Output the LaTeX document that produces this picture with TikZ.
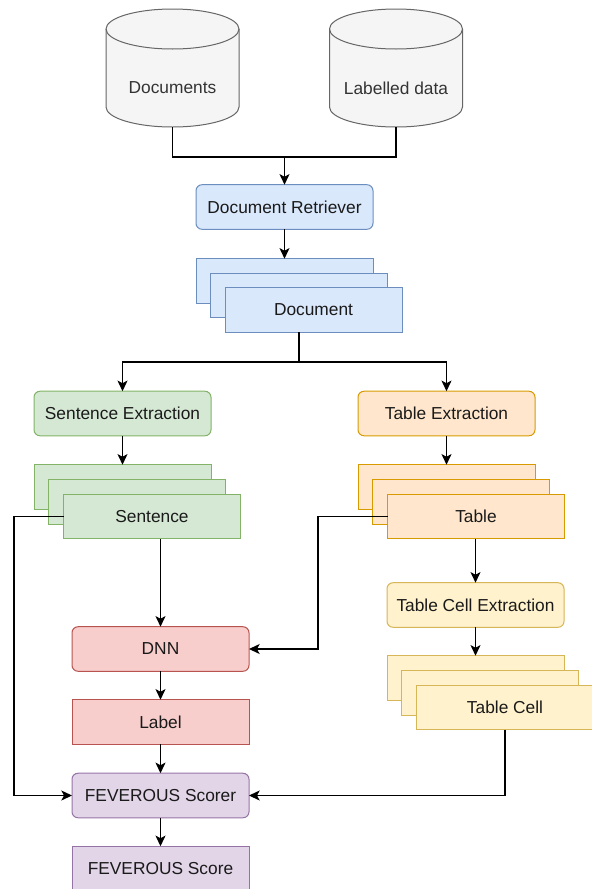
\documentclass[tikz,border=0pt]{standalone}
\usepackage{fontspec}
\setmainfont{Liberation Sans}
\usetikzlibrary{arrows.meta}
\definecolor{dbfill}{HTML}{F5F5F5}
\definecolor{dbline}{HTML}{666666}
\definecolor{bluefill}{HTML}{DAE8FC}
\definecolor{blueline}{HTML}{6C8EBF}
\definecolor{greenfill}{HTML}{D5E8D4}
\definecolor{greenline}{HTML}{82B366}
\definecolor{orangefill}{HTML}{FFE6CC}
\definecolor{orangeline}{HTML}{D79B00}
\definecolor{yellowfill}{HTML}{FFF2CC}
\definecolor{yellowline}{HTML}{D6B656}
\definecolor{redfill}{HTML}{F8CECC}
\definecolor{redline}{HTML}{B85450}
\definecolor{purplefill}{HTML}{E1D5E7}
\definecolor{purpleline}{HTML}{9673A6}
\definecolor{textdark}{HTML}{1A1A1A}
\definecolor{textgray}{HTML}{333333}
\begin{document}
\begin{tikzpicture}[x=0.75pt,y=-0.75pt,
  every node/.style={font=\fontsize{13}{15}\selectfont, text=textdark},
  box/.style={rectangle, line width=0.75pt, minimum width=132.75pt, minimum height=33.4pt, inner sep=0pt, outer sep=0pt},
  roundbox/.style={box, rounded corners=4.5pt},
  db/.style={rectangle, minimum width=99.75pt, minimum height=88.5pt, inner sep=0pt, outer sep=0pt},
  dbshape/.style={draw=dbline, fill=dbfill, line width=0.75pt},
  bluebox/.style={draw=blueline, fill=bluefill},
  greenbox/.style={draw=greenline, fill=greenfill},
  orangebox/.style={draw=orangeline, fill=orangefill},
  yellowbox/.style={draw=yellowline, fill=yellowfill},
  redbox/.style={draw=redline, fill=redfill},
  purplebox/.style={draw=purpleline, fill=purplefill},
  link/.style={line width=0.9pt, draw=black},
  arrow/.style={link, -{Stealth[length=8pt,width=7.5pt,inset=2pt]}}
]
\useasboundingbox (0,0) rectangle (592,889);

% sources
\foreach \db/\x in {docs/172.5, lab/396}{
  \node[db] (\db) at (\x,68) {};
  \filldraw[dbshape] ([yshift=-15pt]\db.north west) -- ([yshift=15pt]\db.south west)
    arc[start angle=180, end angle=360, x radius=49.875pt, y radius=15pt]
    -- ([yshift=-15pt]\db.north east)
    arc[start angle=0, end angle=180, x radius=49.875pt, y radius=15pt] -- cycle;
  \draw[dbshape, fill=none] ([yshift=-15pt]\db.north west)
    arc[start angle=180, end angle=360, x radius=49.875pt, y radius=15pt];
}
\node[text=textgray] (docstext) at ([yshift=-15pt]docs.center) {Documents};
\node[text=textgray] (labtext) at ([yshift=-15pt]lab.center) {Labelled data};
\coordinate (join) at (284.5,157);
\node[roundbox,bluebox] (retr) at (284.5,207) {Document Retriever};

% document stack
\node[box,bluebox] (doc1) at (284.5,281) {};
\node[box,bluebox] (doc2) at (299,295.5) {};
\node[box,bluebox] (doc) at (313.5,310) {Document};
\coordinate (split) at (299,362);

% sentence branch
\node[roundbox,greenbox] (sentext) at (122.5,413.5) {Sentence Extraction};
\node[box,greenbox] (sent1) at (122.5,487) {};
\node[box,greenbox] (sent2) at (137.25,501.75) {};
\node[box,greenbox] (sent) at (152,516.5) {Sentence};

% table branch
\node[roundbox,orangebox] (tabext) at (446.5,413.5) {Table Extraction};
\node[box,orangebox] (tab1) at (446.5,487) {};
\node[box,orangebox] (tab2) at (461.25,501.75) {};
\node[box,orangebox] (tab) at (476,516.5) {Table};
\node[roundbox,yellowbox] (tce) at (475.5,605) {Table Cell Extraction};
\node[box,yellowbox] (cell1) at (475.5,678) {};
\node[box,yellowbox] (cell2) at (490.25,692.75) {};
\node[box,yellowbox] (cell) at (505,707.5) {Table Cell};

% scoring
\node[roundbox,redbox] (dnn) at (160.5,649) {DNN};
\node[box,redbox] (labelbox) at (160.5,722) {Label};
\node[roundbox,purplebox] (scorer) at (160.5,795.5) {FEVEROUS Scorer};
\node[box,purplebox] (score) at (160.5,868.5) {FEVEROUS Score};

\draw[link] (docs.south) |- (join) -| (lab.south);
\draw[arrow] (join) -- (retr.north);
\draw[arrow] (retr) -- (doc1);
\draw[link] (doc.south -| split) -- (split);
\draw[arrow] (split) -| (sentext.north);
\draw[arrow] (split) -| (tabext.north);

\draw[arrow] (sentext) -- (sent1);
\draw[arrow] (sent.west) -- ++(-49.5,0) |- (scorer.west);
\draw[arrow] (dnn.north |- sent.south) -- (dnn.north);

\draw[arrow] (tabext) -- (tab1);
\draw[arrow] (tab.west) -- ++(-69.5,0) |- (dnn.east);
\draw[arrow] (tce.north |- tab.south) -- (tce.north);
\draw[arrow] (tce) -- (cell1);
\draw[arrow] (cell.south) |- (scorer.east);

\draw[arrow] (dnn) -- (labelbox);
\draw[arrow] (labelbox) -- (scorer);
\draw[arrow] (scorer) -- (score);
\end{tikzpicture}
\end{document}
